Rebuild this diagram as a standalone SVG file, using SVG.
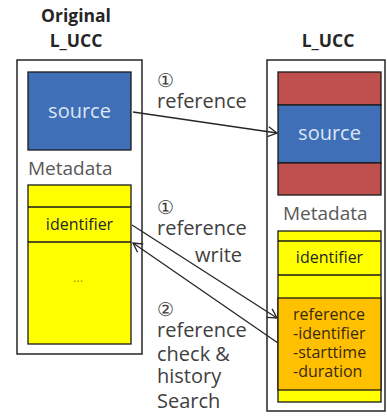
<svg xmlns="http://www.w3.org/2000/svg" width="387" height="416" viewBox="0 0 387 416">
<style>
text{font-family:"Open Sans","Liberation Sans",sans-serif}
.title{font-size:17.5px;font-weight:bold;fill:#262626;text-anchor:middle}
.outer{fill:#fff;stroke:#262626;stroke-width:1.5}
.cell{stroke:#1a1a1a;stroke-width:1.3}
.blue{fill:#3F6FB6}
.red{fill:#C0504D}
.yellow{fill:#FFFF00}
.orange{fill:#FFC000}
.src{font-size:20px;fill:#DCE6F5;text-anchor:middle}
.meta{font-size:19px;fill:#595959}
.id{font-size:16px;fill:#262626;text-anchor:middle}
.otext{font-size:16px;fill:#3a2a10}
.lbl{font-size:20px;fill:#404040}
.num{font-size:19px;fill:#404040}
.conn{stroke:#262626;stroke-width:1.3;fill:none}
</style>
<defs>
<marker id="arr" markerWidth="12" markerHeight="12" refX="10" refY="6" orient="auto" markerUnits="userSpaceOnUse">
<path d="M1,1 L10,6 L1,11" fill="none" stroke="#262626" stroke-width="1.3"/>
</marker>
</defs>
<g id="left-title">
<text class="title" x="76" y="22">Original</text>
<text class="title" x="76" y="47">L_UCC</text>
</g>
<g id="right-title">
<text class="title" x="328" y="47">L_UCC</text>
</g>
<g id="original-lucc">
<rect class="outer" x="17" y="60" width="125" height="294"/>
<rect class="cell blue" x="28" y="72" width="103" height="78"/>
<text class="src" x="79.5" y="118">source</text>
<text class="meta" x="28" y="175">Metadata</text>
<rect class="cell yellow" x="28" y="185" width="103" height="159"/>
<line class="cell" x1="28" y1="207" x2="131" y2="207"/>
<line class="cell" x1="28" y1="242" x2="131" y2="242"/>
<text class="id" x="79.5" y="230">identifier</text>
<text x="78" y="282" style="font-size:13px;fill:#b0a000;text-anchor:middle">...</text>
</g>
<g id="lucc">
<rect class="outer" x="267" y="60" width="118" height="351"/>
<rect class="cell red" x="278" y="72" width="103" height="33"/>
<rect class="cell blue" x="278" y="105" width="103" height="58"/>
<rect class="cell red" x="278" y="163" width="103" height="32"/>
<text class="src" x="329.5" y="140">source</text>
<text class="meta" x="283" y="220">Metadata</text>
<rect class="cell yellow" x="278" y="231" width="103" height="171"/>
<line class="cell" x1="278" y1="241" x2="381" y2="241"/>
<line class="cell" x1="278" y1="275" x2="381" y2="275"/>
<text class="id" x="329.5" y="263">identifier</text>
<rect class="cell orange" x="278" y="298" width="103" height="92"/>
<text class="otext" x="293" y="320">reference</text>
<text class="otext" x="293" y="339">-identifier</text>
<text class="otext" x="293" y="358">-starttime</text>
<text class="otext" x="293" y="377">-duration</text>
</g>
<g id="connectors">
<line class="conn" x1="133" y1="112" x2="277" y2="133" marker-end="url(#arr)"/>
<line class="conn" x1="132" y1="225" x2="277" y2="318" marker-end="url(#arr)"/>
<line class="conn" x1="278" y1="343" x2="133" y2="243" marker-end="url(#arr)"/>
</g>
<g id="labels">
<text class="num" x="157" y="87">①</text>
<text class="lbl" x="157" y="108">reference</text>
<text class="num" x="157" y="214">①</text>
<text class="lbl" x="157" y="235">reference</text>
<text class="lbl" x="195" y="262">write</text>
<text class="num" x="157" y="316">②</text>
<text class="lbl" x="157" y="337">reference</text>
<text class="lbl" x="157" y="361">check &amp;</text>
<text class="lbl" x="157" y="383">history</text>
<text class="lbl" x="157" y="408">Search</text>
</g>
</svg>
